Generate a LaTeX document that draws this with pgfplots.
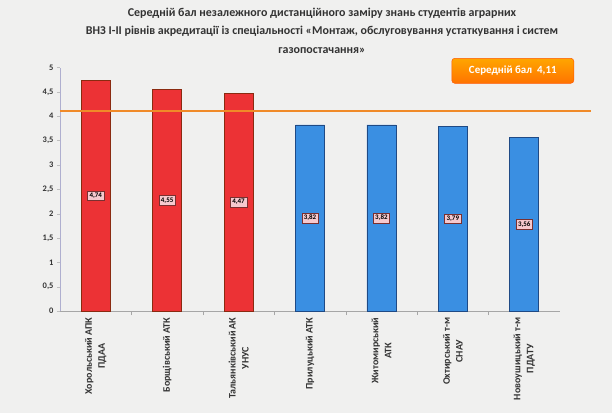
\documentclass[border=0pt]{standalone}
\usepackage{pgfplots}
\usepackage{pgfplotstable}
\pgfplotsset{compat=1.18}
\usepackage{fontspec}
\setmainfont{Carlito}
\definecolor{bg}{HTML}{F0F0EF}
\definecolor{barred}{HTML}{EC3235}
\definecolor{reddark}{HTML}{8A2A10}
\definecolor{barblue}{HTML}{3A8FE2}
\definecolor{bluedark}{HTML}{1F4A85}
\definecolor{avgline}{HTML}{F08A28}
\definecolor{lblfill}{HTML}{F6C9CE}
\definecolor{lbldraw}{HTML}{7A3030}
\definecolor{txt}{HTML}{333333}

\pgfplotstableread{
x y
0 4.74
1 4.55
2 4.47
}\redData
\pgfplotstableread{
x y
3 3.82
4 3.82
5 3.79
6 3.56
}\blueData

\begin{document}
\begin{tikzpicture}[x=1bp,y=1bp]
\fill[bg] (-60,-102) rectangle (552,311);
\useasboundingbox (-60,-102) rectangle (552,311);
\node[align=center, text=txt, font=\bfseries\fontsize{12}{18.5}\selectfont] at (262,280.5)
 {Середній бал незалежного дистанційного заміру знань студентів аграрних\\
  ВНЗ І-ІІ рівнів акредитації із спеціальності «Монтаж, обслуговування устаткування і систем\\
  газопостачання»};
\begin{axis}[
  at={(0,0)}, anchor=south west,
  scale only axis, width=500bp, height=243.5bp,
  xmin=-0.5, xmax=6.5, ymin=0, ymax=5,
  clip=false,
  axis x line*=bottom, axis y line*=left,
  x axis line style={draw=gray!70},
  y axis line style={draw=blue!25!gray!50},
  ytick={0,0.5,...,5},
  xtick={0,...,6},
  minor x tick num=1,
  tick align=outside,
  major tick length=3bp, minor tick length=4bp,
  major x tick style={draw=none},
  minor x tick style={draw=gray!70},
  major y tick style={draw=gray!50},
  /pgf/number format/assume math mode=true,
  yticklabel style={/pgf/number format/.cd, use comma, fixed, /tikz/.cd, font=\bfseries\fontsize{8.5}{9}\selectfont, text=txt},
  xticklabels={{Хорольський АПК\\ПДАА},{Борщівський АТК},{Тальянківський АК\\УНУС},{Прилуцький АТК},{Житомирський\\АТК},{Охтирський т-м\\СНАУ},{Новоушицький т-м\\ПДАТУ}},
  xticklabel style={rotate=90, anchor=east, align=center, text=txt, font=\bfseries\fontsize{10}{13}\selectfont},
]
\addplot[ybar, bar shift=0pt, bar width=29bp, fill=barred, draw=reddark, line width=0.6bp] table[x=x,y=y]{\redData};
\addplot[ybar, bar shift=0pt, bar width=29bp, fill=barblue, draw=bluedark, line width=0.6bp] table[x=x,y=y]{\blueData};
\addplot[avgline, line width=2bp, mark=none] coordinates {(-0.5,4.11) (6.94,4.11)};
\addplot[draw=none, mark=none, nodes near coords, point meta=\thisrow{y},
  every node near coord/.append style={anchor=center, fill=lblfill, draw=lbldraw, line width=0.4bp, inner sep=2bp, text=black,
    font=\bfseries\fontsize{7}{8}\selectfont,
    /pgf/number format/.cd, fixed, fixed zerofill, precision=2, use comma}]
  table[x=x, y expr=\thisrow{y}/2]{\redData};
\addplot[draw=none, mark=none, nodes near coords, point meta=\thisrow{y},
  every node near coord/.append style={anchor=center, fill=lblfill, draw=lbldraw, line width=0.4bp, inner sep=2bp, text=black,
    font=\bfseries\fontsize{7}{8}\selectfont,
    /pgf/number format/.cd, fixed, fixed zerofill, precision=2, use comma}]
  table[x=x, y expr=\thisrow{y}/2]{\blueData};
\end{axis}
\node[rounded corners=3bp, top color=orange!70!yellow, bottom color=orange!90!red, draw=orange!70!red, line width=0.5bp,
  minimum width=122bp, minimum height=25bp, text=white, font=\bfseries\fontsize{11}{13}\selectfont]
  at (452.8,240.2) {Середній бал\ \ 4,11};
\end{tikzpicture}
\end{document}
